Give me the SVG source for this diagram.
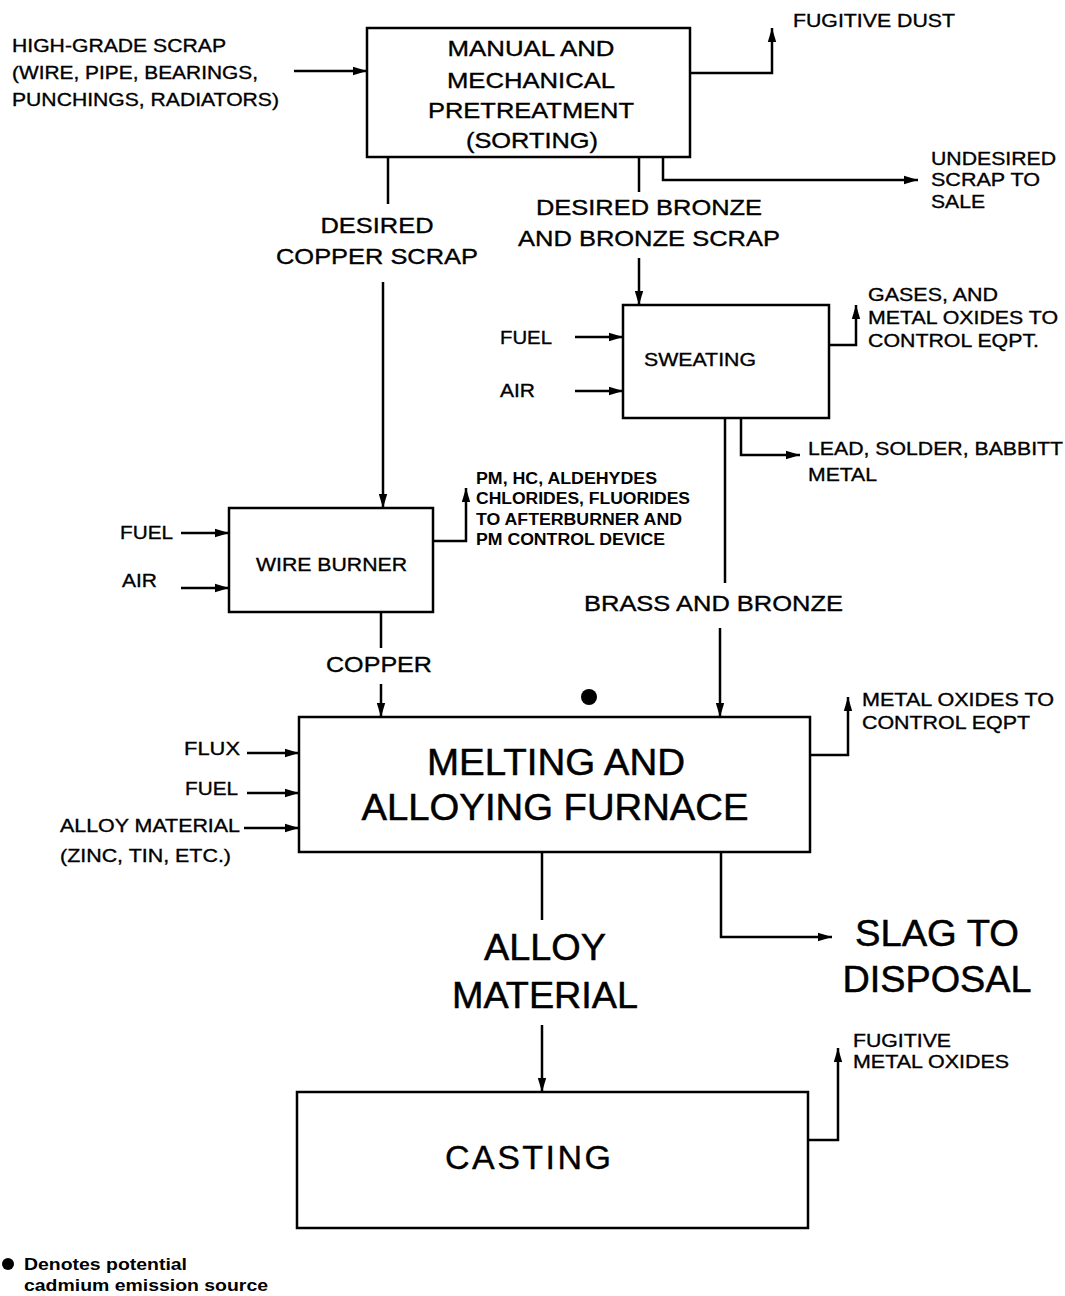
<svg xmlns="http://www.w3.org/2000/svg" width="1065" height="1296" viewBox="0 0 1065 1296">
<defs>
<marker id="ahl" viewBox="0 0 10 10" refX="10" refY="5" markerWidth="14" markerHeight="14" markerUnits="userSpaceOnUse" orient="auto">
<path d="M0,2 L10,5 L0,8 Z" fill="#000"/>
</marker>
</defs>
<style>
text{font-family:"Liberation Sans",Arial,sans-serif;fill:#000;stroke:#000;stroke-width:0.35}
.box{fill:#fff;stroke:#000;stroke-width:2.5}
.ln{fill:none;stroke:#000;stroke-width:2.5}
.ar{fill:none;stroke:#000;stroke-width:2.5;marker-end:url(#ahl)}
.s16b{font-size:16px;font-weight:bold;stroke-width:0}
.s19{font-size:19px}
.s22{font-size:22px}
.s36{font-size:36px;stroke-width:0.5}
.m{text-anchor:middle}
.e{text-anchor:end}
</style>
<rect width="1065" height="1296" fill="#fff"/>

<g id="connectors">
<line class="ar" x1="294" y1="71" x2="367" y2="71"/>
<polyline class="ar" points="690,73 772,73 772,28"/>
<line class="ln" x1="388" y1="157" x2="388" y2="204"/>
<line class="ar" x1="383" y1="282" x2="383" y2="508"/>
<line class="ln" x1="639" y1="157" x2="639" y2="192"/>
<line class="ar" x1="639" y1="258" x2="639" y2="305"/>
<polyline class="ar" points="663,157 663,180 918,180"/>
<line class="ar" x1="575" y1="337" x2="623" y2="337"/>
<line class="ar" x1="575" y1="391" x2="623" y2="391"/>
<polyline class="ar" points="829,345 856,345 856,305"/>
<line class="ln" x1="725" y1="418" x2="725" y2="583"/>
<polyline class="ar" points="741,418 741,455 800,455"/>
<line class="ar" x1="720" y1="628" x2="720" y2="717"/>
<line class="ar" x1="181" y1="533" x2="229" y2="533"/>
<line class="ar" x1="181" y1="588" x2="229" y2="588"/>
<polyline class="ar" points="433,541 466,541 466,488"/>
<line class="ln" x1="381" y1="612" x2="381" y2="648"/>
<line class="ar" x1="381" y1="684" x2="381" y2="717"/>
<line class="ar" x1="247" y1="753" x2="299" y2="753"/>
<line class="ar" x1="247" y1="793" x2="299" y2="793"/>
<line class="ar" x1="244" y1="828" x2="299" y2="828"/>
<polyline class="ar" points="810,755 848,755 848,697"/>
<line class="ln" x1="542" y1="852" x2="542" y2="920"/>
<line class="ar" x1="542" y1="1025" x2="542" y2="1092"/>
<polyline class="ar" points="721,852 721,937 832,937"/>
<polyline class="ar" points="808,1140 838,1140 838,1048"/>
</g>

<g id="pretreatment">
<rect class="box" x="367" y="28" width="323" height="129"/>
<text class="s22 m" x="531" y="56" textLength="167" lengthAdjust="spacingAndGlyphs">MANUAL AND</text>
<text class="s22 m" x="531" y="88" textLength="168" lengthAdjust="spacingAndGlyphs">MECHANICAL</text>
<text class="s22 m" x="531" y="118" textLength="206" lengthAdjust="spacingAndGlyphs">PRETREATMENT</text>
<text class="s22 m" x="532" y="148" textLength="132" lengthAdjust="spacingAndGlyphs">(SORTING)</text>
</g>
<g id="high-grade-scrap">
<text class="s19" x="12" y="52" textLength="214" lengthAdjust="spacingAndGlyphs">HIGH-GRADE SCRAP</text>
<text class="s19" x="12" y="79" textLength="246" lengthAdjust="spacingAndGlyphs">(WIRE, PIPE, BEARINGS,</text>
<text class="s19" x="12" y="106" textLength="267" lengthAdjust="spacingAndGlyphs">PUNCHINGS, RADIATORS)</text>
</g>
<g id="fugitive-dust"><text class="s19" x="793" y="27" textLength="162" lengthAdjust="spacingAndGlyphs">FUGITIVE DUST</text></g>
<g id="undesired">
<text class="s19" x="931" y="165" textLength="125" lengthAdjust="spacingAndGlyphs">UNDESIRED</text>
<text class="s19" x="931" y="186" textLength="109" lengthAdjust="spacingAndGlyphs">SCRAP TO</text>
<text class="s19" x="931" y="208" textLength="54" lengthAdjust="spacingAndGlyphs">SALE</text>
</g>
<g id="desired-copper">
<text class="s22 m" x="377" y="233" textLength="113" lengthAdjust="spacingAndGlyphs">DESIRED</text>
<text class="s22 m" x="377" y="264" textLength="202" lengthAdjust="spacingAndGlyphs">COPPER SCRAP</text>
</g>
<g id="desired-bronze">
<text class="s22 m" x="649" y="215" textLength="226" lengthAdjust="spacingAndGlyphs">DESIRED BRONZE</text>
<text class="s22 m" x="649" y="246" textLength="262" lengthAdjust="spacingAndGlyphs">AND BRONZE SCRAP</text>
</g>

<g id="sweating">
<rect class="box" x="623" y="305" width="206" height="113"/>
<text class="s19" x="644" y="366" textLength="112" lengthAdjust="spacingAndGlyphs">SWEATING</text>
</g>
<g id="sweat-fuel"><text class="s19" x="500" y="344" textLength="52" lengthAdjust="spacingAndGlyphs">FUEL</text></g>
<g id="sweat-air"><text class="s19" x="500" y="397" textLength="35" lengthAdjust="spacingAndGlyphs">AIR</text></g>
<g id="sweat-gases">
<text class="s19" x="868" y="301" textLength="130" lengthAdjust="spacingAndGlyphs">GASES, AND</text>
<text class="s19" x="868" y="324" textLength="190" lengthAdjust="spacingAndGlyphs">METAL OXIDES TO</text>
<text class="s19" x="868" y="347" textLength="171" lengthAdjust="spacingAndGlyphs">CONTROL EQPT.</text>
</g>
<g id="lead">
<text class="s19" x="808" y="455" textLength="255" lengthAdjust="spacingAndGlyphs">LEAD, SOLDER, BABBITT</text>
<text class="s19" x="808" y="481" textLength="69" lengthAdjust="spacingAndGlyphs">METAL</text>
</g>
<g id="brass"><text class="s22" x="584" y="611" textLength="259" lengthAdjust="spacingAndGlyphs">BRASS AND BRONZE</text></g>

<g id="wire-burner">
<rect class="box" x="229" y="508" width="204" height="104"/>
<text class="s19" x="256" y="571" textLength="151" lengthAdjust="spacingAndGlyphs">WIRE BURNER</text>
</g>
<g id="wb-fuel"><text class="s19" x="120" y="539" textLength="53" lengthAdjust="spacingAndGlyphs">FUEL</text></g>
<g id="wb-air"><text class="s19" x="122" y="587" textLength="35" lengthAdjust="spacingAndGlyphs">AIR</text></g>
<g id="wb-emissions">
<text class="s16b" x="476" y="484" textLength="181" lengthAdjust="spacingAndGlyphs">PM, HC, ALDEHYDES</text>
<text class="s16b" x="476" y="504" textLength="214" lengthAdjust="spacingAndGlyphs">CHLORIDES, FLUORIDES</text>
<text class="s16b" x="476" y="525" textLength="206" lengthAdjust="spacingAndGlyphs">TO AFTERBURNER AND</text>
<text class="s16b" x="476" y="545" textLength="189" lengthAdjust="spacingAndGlyphs">PM CONTROL DEVICE</text>
</g>
<g id="copper"><text class="s22 m" x="379" y="672" textLength="106" lengthAdjust="spacingAndGlyphs">COPPER</text></g>
<g id="cadmium-dot"><circle cx="589" cy="697" r="8" fill="#000"/></g>

<g id="furnace">
<rect class="box" x="299" y="717" width="511" height="135"/>
<text class="s36 m" x="556" y="775" textLength="258" lengthAdjust="spacingAndGlyphs">MELTING AND</text>
<text class="s36 m" x="555" y="820" textLength="387" lengthAdjust="spacingAndGlyphs">ALLOYING FURNACE</text>
</g>
<g id="flux"><text class="s19 e" x="240" y="755" textLength="56" lengthAdjust="spacingAndGlyphs">FLUX</text></g>
<g id="furnace-fuel"><text class="s19 e" x="238" y="795" textLength="53" lengthAdjust="spacingAndGlyphs">FUEL</text></g>
<g id="alloy-input">
<text class="s19 e" x="240" y="832" textLength="180" lengthAdjust="spacingAndGlyphs">ALLOY MATERIAL</text>
<text class="s19" x="60" y="862" textLength="171" lengthAdjust="spacingAndGlyphs">(ZINC, TIN, ETC.)</text>
</g>
<g id="furnace-oxides">
<text class="s19" x="862" y="706" textLength="192" lengthAdjust="spacingAndGlyphs">METAL OXIDES TO</text>
<text class="s19" x="862" y="729" textLength="168" lengthAdjust="spacingAndGlyphs">CONTROL EQPT</text>
</g>
<g id="alloy-material">
<text class="s36 m" x="545" y="960" textLength="122" lengthAdjust="spacingAndGlyphs">ALLOY</text>
<text class="s36 m" x="545" y="1008" textLength="186" lengthAdjust="spacingAndGlyphs">MATERIAL</text>
</g>
<g id="slag">
<text class="s36 m" x="937" y="946" textLength="164" lengthAdjust="spacingAndGlyphs">SLAG TO</text>
<text class="s36 m" x="937" y="992" textLength="189" lengthAdjust="spacingAndGlyphs">DISPOSAL</text>
</g>

<g id="casting">
<rect class="box" x="297" y="1092" width="511" height="136"/>
<text class="m" x="528" y="1169" style="font-size:34px" textLength="166" lengthAdjust="spacing">CASTING</text>
</g>
<g id="fugitive-oxides">
<text class="s19" x="853" y="1047" textLength="98" lengthAdjust="spacingAndGlyphs">FUGITIVE</text>
<text class="s19" x="853" y="1068" textLength="156" lengthAdjust="spacingAndGlyphs">METAL OXIDES</text>
</g>
<g id="legend">
<circle cx="8" cy="1264" r="6" fill="#000"/>
<text class="s16b" x="24" y="1270" textLength="163" lengthAdjust="spacingAndGlyphs">Denotes potential</text>
<text class="s16b" x="24" y="1291" textLength="244" lengthAdjust="spacingAndGlyphs">cadmium emission source</text>
</g>
</svg>
